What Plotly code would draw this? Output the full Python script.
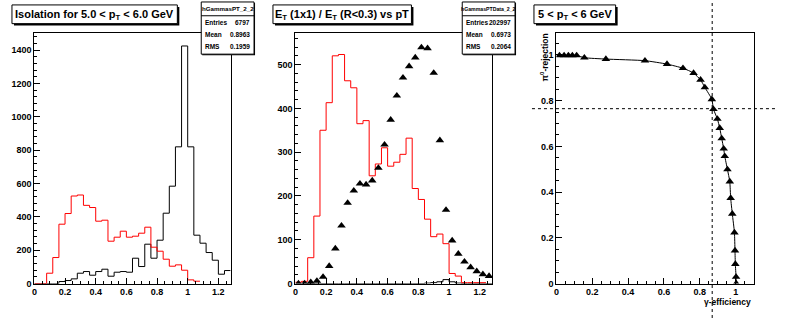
import numpy as np
import plotly.graph_objects as go

W, H = 787, 323
BIN_START = 0.0
BIN_WIDTH = 0.04

# Panel 1: isolation histograms (bins of 0.04 from 0)
iso_black = [0, 0, 0, 0, 12, 18, 28, 62, 72, 50, 72, 86, 44, 68, 72, 68,
             152, 102, 236, 152, 260, 422, 584, 820, 1425, 820, 290, 242, 186, 140, 56, 78]
iso_red = [0, 0, 62, 156, 356, 420, 525, 531, 469, 456, 374, 380, 254, 278, 314, 278,
           284, 302, 338, 218, 194, 146, 104, 112, 80, 22, 14]

# Panel 2: ET ratio histograms + triangles
et_red = [3, 5, 59, 154, 350, 413, 520, 523, 463, 447, 365, 372, 246, 273, 310, 268,
          277, 295, 332, 217, 192, 147, 107, 113, 91, 23, 17, 2, 2, 2, 2]
et_black = [1, 1, 0, 0, 0, 0, 0, 0, 0, 0, 0, 0, 0, 0, 0, 0,
            0, 0, 0, 0, 0, 1, 2, 4, 9, 4, 1, 0, 0, 0, 0, 0]
et_tri = [0, 0, 3, 6, 15, 40, 80, 132, 184, 212, 228, 226, 235, 264, 317, 374,
          429, 470, 496, 516, 539, 537, 481, 327, 168, 98, 68, 50, 37, 28, 21, 17]

# Panel 3: rejection vs efficiency
gamma_eff = [0.017, 0.043, 0.067, 0.089, 0.113, 0.156, 0.276, 0.494, 0.617, 0.706,
             0.765, 0.804, 0.828, 0.867, 0.876, 0.898, 0.911, 0.922, 0.933, 0.939,
             0.954, 0.967, 0.972, 0.981, 0.993, 0.996, 0.998, 1.002, 1.003]
pi0_rej = [0.998, 0.998, 0.998, 0.998, 0.998, 0.988, 0.982, 0.975, 0.960, 0.942,
           0.921, 0.891, 0.858, 0.806, 0.763, 0.720, 0.680, 0.635, 0.590, 0.557,
           0.499, 0.446, 0.374, 0.305, 0.223, 0.144, 0.085, 0.029, 0.0]
EFF_CUT = 0.869
REJ_CUT = 0.765

titles = ["Isolation for 5.0 &lt; p<sub>T</sub> &lt; 6.0 GeV",
          "E<sub>T</sub> (1x1) / E<sub>T</sub> (R&lt;0.3) vs pT",
          "5 &lt; p<sub>T</sub> &lt; 6 GeV"]
stats = [("hGammasPT_2_2", [("Entries", "6797"), ("Mean", "0.8963"), ("RMS", "0.1959")]),
         ("hGammasPTData_2_2", [("Entries", "202997"), ("Mean", "0.6973"), ("RMS", "0.2064")])]


def px(x):
    return x / W


def py(y):
    return 1 - y / H


def step(values):
    n = len(values)
    edges = BIN_START + BIN_WIDTH * np.arange(n + 1)
    return list(edges), list(values) + [values[-1]]


fig = go.Figure()

x, y = step(iso_black)
fig.add_trace(go.Scatter(x=x, y=y, mode="lines", line=dict(color="black", width=1, shape="hv"),
                         xaxis="x", yaxis="y", showlegend=False))
x, y = step(iso_red)
fig.add_trace(go.Scatter(x=x, y=y, mode="lines", line=dict(color="red", width=1, shape="hv"),
                         xaxis="x", yaxis="y", showlegend=False))

x, y = step(et_black)
fig.add_trace(go.Scatter(x=x, y=y, mode="lines", line=dict(color="black", width=1, shape="hv"),
                         xaxis="x2", yaxis="y2", showlegend=False))
x, y = step(et_red)
fig.add_trace(go.Scatter(x=x, y=y, mode="lines", line=dict(color="red", width=1, shape="hv"),
                         xaxis="x2", yaxis="y2", showlegend=False))
centers = BIN_START + BIN_WIDTH * (np.arange(len(et_tri)) + 0.5)
fig.add_trace(go.Scatter(x=centers, y=et_tri, mode="markers",
                         marker=dict(symbol="triangle-up", size=7.5, color="black"),
                         xaxis="x2", yaxis="y2", showlegend=False, cliponaxis=True))

fig.add_trace(go.Scatter(x=gamma_eff, y=pi0_rej, mode="lines+markers",
                         line=dict(color="black", width=1, shape="spline", smoothing=0.5),
                         marker=dict(symbol="triangle-up", size=7.5, color="black"),
                         xaxis="x3", yaxis="y3", showlegend=False))

tickfont = dict(family="Liberation Sans", size=9, color="black", weight="bold")


def axis(domain, rng, dtick, mdtick, anchor):
    return dict(domain=domain, range=rng, dtick=dtick, tick0=0, showline=True, linecolor="black",
                linewidth=1, mirror=True, ticks="inside", ticklen=6, tickcolor="black",
                tickwidth=1, showgrid=False, zeroline=False, tickfont=tickfont, anchor=anchor,
                minor=dict(ticks="inside", ticklen=3, tickcolor="black", dtick=mdtick, tick0=0,
                           showgrid=False))


ydom = [py(288), py(34)]
fig.update_layout(
    width=W, height=H, margin=dict(l=0, r=0, t=0, b=0),
    paper_bgcolor="white", plot_bgcolor="white",
    xaxis=axis([px(31.5), px(228.5)], [0, 1.28], 0.2, 0.05, "y"),
    yaxis=axis(ydom, [0, 1500], 200, 40, "x"),
    xaxis2=axis([px(293.5), px(491)], [0, 1.28], 0.2, 0.05, "y2"),
    yaxis2=axis(ydom, [0, 571], 100, 20, "x2"),
    xaxis3=axis([px(555.5), px(753.5)], [0, 1.1], 0.2, 0.05, "y3"),
    yaxis3=axis(ydom, [0, 1.094], 0.2, 0.05, "x3"),
)

shapes = []
annotations = []

# title boxes
title_boxes = [(9, 175), (271, 410), (533, 615)]
for (x0, x1), t in zip(title_boxes, titles):
    shapes.append(dict(type="rect", xref="paper", yref="paper", x0=px(x0 + 2), x1=px(x1 + 2),
                       y0=py(26), y1=py(7), fillcolor="black", line=dict(width=0), layer="above"))
    shapes.append(dict(type="rect", xref="paper", yref="paper", x0=px(x0), x1=px(x1),
                       y0=py(24), y1=py(5), fillcolor="white", line=dict(color="black", width=1),
                       layer="above"))
    annotations.append(dict(text=t, xref="paper", yref="paper", x=px((x0 + x1) / 2), y=py(15),
                            xanchor="center", yanchor="middle", showarrow=False,
                            font=dict(family="Liberation Sans", size=11, color="black", weight="bold")))

# stats boxes
stat_x = [199, 461]
for sx, (name, rows) in zip(stat_x, stats):
    shapes.append(dict(type="rect", xref="paper", yref="paper", x0=px(sx + 1), x1=px(sx + 54),
                       y0=py(56), y1=py(3), fillcolor="black", line=dict(width=0), layer="above"))
    shapes.append(dict(type="rect", xref="paper", yref="paper", x0=px(sx), x1=px(sx + 53),
                       y0=py(55), y1=py(2), fillcolor="white", line=dict(color="black", width=1),
                       layer="above"))
    shapes.append(dict(type="line", xref="paper", yref="paper", x0=px(sx), x1=px(sx + 53),
                       y0=py(16), y1=py(16), line=dict(color="black", width=1), layer="above"))
    hsize = 6.2 if len(name) < 15 else 5.2
    annotations.append(dict(text=name, xref="paper", yref="paper", x=px(sx + 26.5), y=py(9),
                            xanchor="center", yanchor="middle", showarrow=False,
                            font=dict(family="Liberation Sans", size=hsize, color="black", weight="bold")))
    for i, (lab, val) in enumerate(rows):
        yy = py(23 + 12 * i)
        annotations.append(dict(text=lab, xref="paper", yref="paper", x=px(sx + 2), y=yy,
                                xanchor="left", yanchor="middle", showarrow=False,
                                font=dict(family="Liberation Sans", size=6.5, color="black", weight="bold")))
        annotations.append(dict(text=val, xref="paper", yref="paper", x=px(sx + 51), y=yy,
                                xanchor="right", yanchor="middle", showarrow=False,
                                font=dict(family="Liberation Sans", size=6.5, color="black", weight="bold")))

# cut lines on panel 3
shapes.append(dict(type="line", xref="x3", yref="paper", x0=EFF_CUT, x1=EFF_CUT, y0=0, y1=1,
                   line=dict(color="black", width=1, dash="3px,3px"), layer="above"))
shapes.append(dict(type="line", xref="paper", yref="y3", x0=px(531), x1=px(775), y0=REJ_CUT, y1=REJ_CUT,
                   line=dict(color="black", width=1, dash="3px,3px"), layer="above"))

# axis titles panel 3
annotations.append(dict(text="π<sup>0</sup>-rejection", xref="paper", yref="paper", x=px(544), y=py(32),
                        xanchor="center", yanchor="top", textangle=-90, showarrow=False,
                        font=dict(family="Liberation Sans", size=8.5, color="black", weight="bold")))
annotations.append(dict(text="γ-efficiency", xref="paper", yref="paper", x=px(753), y=py(307),
                        xanchor="right", yanchor="middle", showarrow=False,
                        font=dict(family="Liberation Sans", size=8.5, color="black", weight="bold")))

fig.update_layout(shapes=shapes, annotations=annotations)
fig.write_html("out.html")
